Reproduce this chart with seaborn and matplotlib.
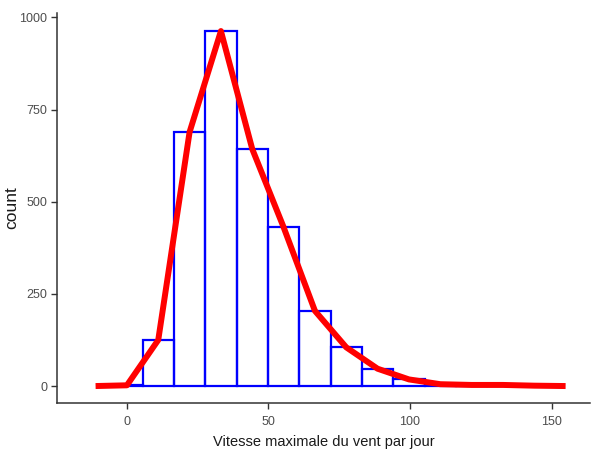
import numpy as np
import pandas as pd
import matplotlib
matplotlib.use("Agg")
import matplotlib.pyplot as plt
import seaborn as sns

# Data (bin width ~11.07, bins centred on multiples of it)
binwidth = 11.07
bin_index = list(range(0, 14))  # histogram bins, centres 0 .. 144
hist_counts = [2, 125, 689, 963, 643, 431, 204, 105, 47, 18, 5, 3, 3, 1]
# frequency polygon counts (padded by one empty bin each side)
poly_index = list(range(-1, 15))
poly_counts = [0, 2, 125, 689, 963, 643, 431, 204, 105, 47, 18, 5, 3, 3, 1, 0]

x_ticks = [0, 50, 100, 150]
y_ticks = [0, 250, 500, 750, 1000]
x_label = "Vitesse maximale du vent par jour"
y_label = "count"

centers = np.array(bin_index) * binwidth
binrange = (float(centers[0] - binwidth / 2), float(centers[-1] + binwidth / 2))
poly_x = np.array(poly_index) * binwidth

hist_df = pd.DataFrame({"x": centers, "n": hist_counts})
poly_df = pd.DataFrame({"x": poly_x, "n": poly_counts})

sns.set_theme(style="ticks")
plt.rcParams["font.family"] = ["Liberation Sans", "DejaVu Sans"]

fig = plt.figure(figsize=(5.91, 4.53), dpi=100)
ax = fig.add_axes([57 / 591, 1 - 403 / 453, (590 - 57) / 591, (403 - 13) / 453])

sns.histplot(data=hist_df, x="x", weights="n", binwidth=binwidth, binrange=binrange,
             fill=False, color="#0000FF", linewidth=1.6, element="bars", ax=ax)
sns.lineplot(data=poly_df, x="x", y="n", color="#FF0000", linewidth=4.3,
             ax=ax, solid_capstyle="butt")

ax.set_xlim(-24.7, 163.6)
ax.set_ylim(-46, 1012)
ax.set_xticks(x_ticks)
ax.set_yticks(y_ticks)
ax.tick_params(axis="both", colors="#333333", labelcolor="#4D4D4D",
               labelsize=9, length=4, width=1, pad=3)
ax.tick_params(axis="x", pad=5.5)
for s in ["top", "right"]:
    ax.spines[s].set_visible(False)
for s in ["left", "bottom"]:
    ax.spines[s].set_color("#333333")
    ax.spines[s].set_linewidth(1.1)

ax.set_xlabel(x_label, fontsize=10.5, color="#1A1A1A", labelpad=5)
ax.set_ylabel(y_label, fontsize=12.5, color="#1A1A1A")
ax.yaxis.set_label_coords(-0.071, 0.5)

fig.savefig("out.png", dpi=100)
